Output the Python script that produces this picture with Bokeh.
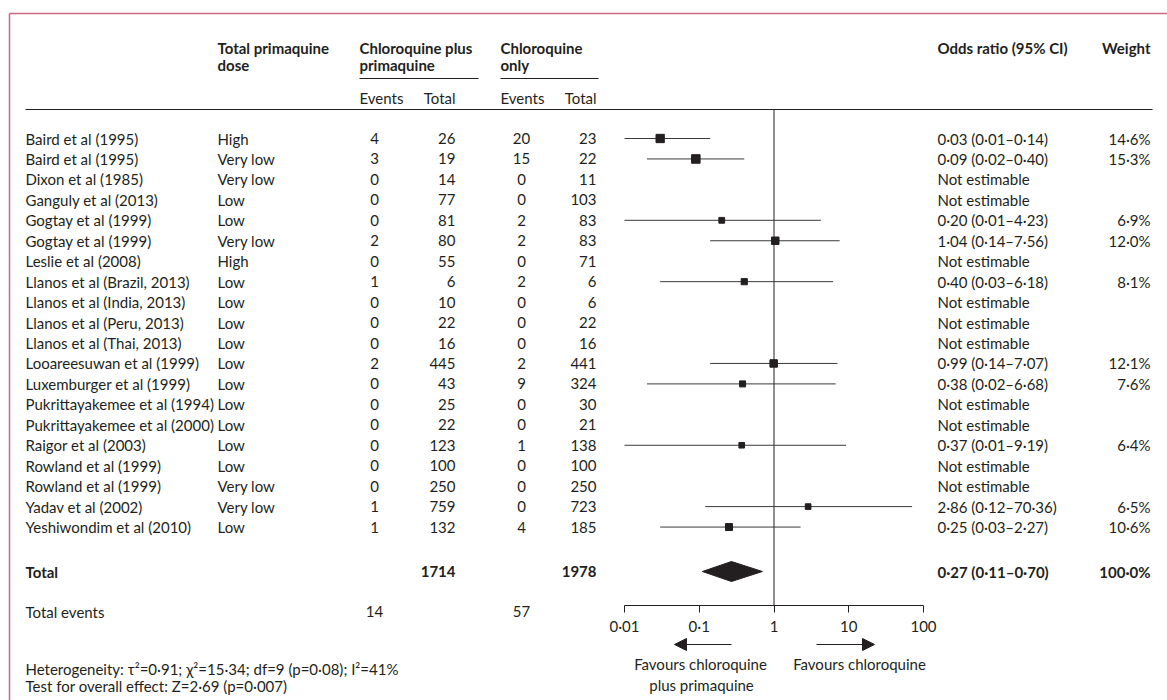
from bokeh.plotting import figure
from bokeh.models import ColumnDataSource, Range1d, LogScale, LogAxis, FixedTicker, Arrow, NormalHead
from bokeh.core.properties import value
from bokeh.embed import file_html
from bokeh.resources import INLINE

# ---------------- data ----------------
studies = ["Baird et al (1995)", "Baird et al (1995)", "Dixon et al (1985)", "Ganguly et al (2013)",
           "Gogtay et al (1999)", "Gogtay et al (1999)", "Leslie et al (2008)", "Llanos et al (Brazil, 2013)",
           "Llanos et al (India, 2013)", "Llanos et al (Peru, 2013)", "Llanos et al (Thai, 2013)",
           "Looareesuwan et al (1999)", "Luxemburger et al (1999)", "Pukrittayakemee et al (1994)",
           "Pukrittayakemee et al (2000)", "Raigor et al (2003)", "Rowland et al (1999)", "Rowland et al (1999)",
           "Yadav et al (2002)", "Yeshiwondim et al (2010)"]
doses = ["High", "Very low", "Very low", "Low", "Low", "Very low", "High", "Low", "Low", "Low", "Low",
         "Low", "Low", "Low", "Low", "Low", "Low", "Very low", "Very low", "Low"]
cp_events = [4, 3, 0, 0, 0, 2, 0, 1, 0, 0, 0, 2, 0, 0, 0, 0, 0, 0, 1, 1]
cp_total = [26, 19, 14, 77, 81, 80, 55, 6, 10, 22, 16, 445, 43, 25, 22, 123, 100, 250, 759, 132]
c_events = [20, 15, 0, 0, 2, 2, 0, 2, 0, 0, 0, 2, 9, 0, 0, 1, 0, 0, 0, 4]
c_total = [23, 22, 11, 103, 83, 83, 71, 6, 6, 22, 16, 441, 324, 30, 21, 138, 100, 250, 723, 185]
odds_ratio = [0.03, 0.09, None, None, 0.20, 1.04, None, 0.40, None, None, None, 0.99, 0.38, None, None,
              0.37, None, None, 2.86, 0.25]
ci_low = [0.01, 0.02, None, None, 0.01, 0.14, None, 0.03, None, None, None, 0.14, 0.02, None, None,
          0.01, None, None, 0.12, 0.03]
ci_high = [0.14, 0.40, None, None, 4.23, 7.56, None, 6.18, None, None, None, 7.07, 6.68, None, None,
           9.19, None, None, 70.36, 2.27]
weights = [14.6, 15.3, None, None, 6.9, 12.0, None, 8.1, None, None, None, 12.1, 7.6, None, None,
           6.4, None, None, 6.5, 10.6]

total_cp = 1714
total_c = 1978
events_cp = 14
events_c = 57
pooled = [0.27, 0.11, 0.70]
pooled_weight = 100.0
tick_values = [0.01, 0.1, 1, 10, 100]
tick_labels = ["0·01", "0·1", "1", "10", "100"]
heterogeneity_text = "Heterogeneity: τ²=0·91; χ²=15·34; df=9 (p=0·08); I²=41%"
overall_text = "Test for overall effect: Z=2·69 (p=0·007)"

# ---------------- layout ----------------
W, H = 1167, 700
INK = "#231f20"
FRAME = "#cf6680"
FONT = "Lato"
FS = "15px"

ROW0, ROW_H = 138, 20.45
HEAD1, HEAD2, UNDER_Y, SUB_Y, HLINE_Y = 47, 64, 78, 97, 109
TOTAL_Y, EVENTS_Y = 571, 611
AXIS_Y = 605
HET_Y, TEST_Y = 668, 685
ARROW_Y, FAV_Y, FAV2_Y = 644, 663, 684
X_ONE, DECADE = 773.5, 74.75

X_NAME, X_DOSE = 25, 217
X_G1, X_G2 = 359, 500
X_EV1, X_TOT1, X_EV2, X_TOT2 = 374, 455, 521, 596
X_CI, X_W = 937, 1150


def fmt(v):
    return f"{v:.2f}".replace(".", "·")


n = len(studies)
row_y = [ROW0 + i * ROW_H for i in range(n)]
ci_text = [f"{fmt(o)} ({fmt(l)}–{fmt(h)})" if o is not None else "Not estimable"
           for o, l, h in zip(odds_ratio, ci_low, ci_high)]
w_text = [f"{w:.1f}%".replace(".", "·") if w is not None else "" for w in weights]

p = figure(width=W, height=H, x_range=Range1d(0, W), y_range=Range1d(H, 0),
           output_backend="svg", toolbar_location=None, min_border=0,
           x_axis_type=None, y_axis_type=None)
p.title.visible = False
p.outline_line_color = None
p.xgrid.visible = False
p.ygrid.visible = False
p.background_fill_color = "white"

lo_log = (0 - X_ONE) / DECADE
hi_log = (W - X_ONE) / DECADE
p.extra_x_ranges = {"or": Range1d(10 ** lo_log, 10 ** hi_log)}
p.extra_x_scales = {"or": LogScale()}


def txt(xs, ys, texts, align="left", bold=False, size=FS):
    src = ColumnDataSource(dict(x=list(xs), y=list(ys), t=list(texts)))
    p.text(x="x", y="y", text="t", source=src, text_align=align, text_baseline="middle",
           text_font=value(FONT), text_font_size=size, text_color=INK,
           text_font_style="bold" if bold else "normal")


# frame (pink)
p.segment(x0=[9, 9], y0=[13, 13], x1=[W, 9], y1=[13, H], line_color=FRAME, line_width=1.5)

# header
txt([X_DOSE, X_G1, X_G2, X_CI], [HEAD1] * 4,
    ["Total primaquine", "Chloroquine plus", "Chloroquine", "Odds ratio (95% CI)"], bold=True)
txt([X_W], [HEAD1], ["Weight"], align="right", bold=True)
txt([X_DOSE, X_G1, X_G2], [HEAD2] * 3, ["dose", "primaquine", "only"], bold=True)
p.segment(x0=[X_G1, X_G2], x1=[478, 598], y0=[UNDER_Y] * 2, y1=[UNDER_Y] * 2, line_color=INK, line_width=1)
txt([X_G1, X_G2], [SUB_Y] * 2, ["Events", "Events"])
txt([X_TOT1, X_TOT2], [SUB_Y] * 2, ["Total", "Total"], align="right")
p.segment(x0=[25], x1=[1152], y0=[HLINE_Y], y1=[HLINE_Y], line_color=INK, line_width=1)

# study rows
txt([X_NAME] * n, row_y, studies)
txt([X_DOSE] * n, row_y, doses)
txt([X_EV1] * n, row_y, [str(v) for v in cp_events], align="center")
txt([X_TOT1] * n, row_y, [str(v) for v in cp_total], align="right")
txt([X_EV2] * n, row_y, [str(v) for v in c_events], align="center")
txt([X_TOT2] * n, row_y, [str(v) for v in c_total], align="right")
txt([X_CI] * n, row_y, ci_text)
txt([X_W] * n, row_y, w_text, align="right")

# totals
txt([X_NAME], [TOTAL_Y], ["Total"], bold=True)
txt([X_TOT1, X_TOT2], [TOTAL_Y] * 2, [str(total_cp), str(total_c)], align="right", bold=True)
txt([X_CI], [TOTAL_Y], [f"{fmt(pooled[0])} ({fmt(pooled[1])}–{fmt(pooled[2])})"], bold=True)
txt([X_W], [TOTAL_Y], [f"{pooled_weight:.1f}%".replace(".", "·")], align="right", bold=True)
txt([X_NAME], [EVENTS_Y], ["Total events"])
txt([X_EV1, X_EV2], [EVENTS_Y] * 2, [str(events_cp), str(events_c)], align="center")
txt([X_NAME], [HET_Y], [heterogeneity_text])
txt([X_NAME], [TEST_Y], [overall_text])

# forest plot
p.segment(x0=[1], x1=[1], y0=[HLINE_Y], y1=[AXIS_Y], x_range_name="or", line_color=INK, line_width=1)
est = [i for i in range(n) if odds_ratio[i] is not None]
fsrc = ColumnDataSource(dict(
    y=[row_y[i] for i in est],
    orv=[odds_ratio[i] for i in est],
    lo=[ci_low[i] for i in est],
    hi=[ci_high[i] for i in est],
    size=[3.5 + 0.33 * weights[i] for i in est],
))
p.segment(x0="lo", x1="hi", y0="y", y1="y", source=fsrc, x_range_name="or", line_color="#3a3a3a", line_width=1)
p.scatter(x="orv", y="y", size="size", marker="square", source=fsrc, x_range_name="or",
          fill_color=INK, line_color=INK)
p.patch(x=[pooled[1], pooled[0], pooled[2], pooled[0]],
        y=[TOTAL_Y, TOTAL_Y - 10, TOTAL_Y, TOTAL_Y + 10],
        x_range_name="or", fill_color=INK, line_color=INK)

ax = LogAxis(x_range_name="or", fixed_location=AXIS_Y, bounds=(tick_values[0], tick_values[-1]),
             ticker=FixedTicker(ticks=tick_values, minor_ticks=[]),
             major_label_overrides={v: s for v, s in zip(tick_values, tick_labels)})
ax.axis_line_color = INK
ax.major_tick_line_color = INK
ax.major_tick_in = 0
ax.major_tick_out = 7
ax.minor_tick_in = 0
ax.minor_tick_out = 0
ax.major_label_standoff = 4
ax.major_label_text_font = FONT
ax.major_label_text_font_size = FS
ax.major_label_text_color = INK
p.add_layout(ax, "below")

# direction arrows and labels
p.add_layout(Arrow(end=NormalHead(size=12, fill_color=INK, line_color=INK), x_start=731, y_start=ARROW_Y,
                   x_end=674, y_end=ARROW_Y, line_color=INK, line_width=1.2))
p.add_layout(Arrow(end=NormalHead(size=12, fill_color=INK, line_color=INK), x_start=816, y_start=ARROW_Y,
                   x_end=874, y_end=ARROW_Y, line_color=INK, line_width=1.2))
txt([700, 701], [FAV_Y, FAV2_Y], ["Favours chloroquine", "plus primaquine"], align="center")
txt([859], [FAV_Y], ["Favours chloroquine"], align="center")

open("out.html", "w").write(file_html(p, INLINE))
